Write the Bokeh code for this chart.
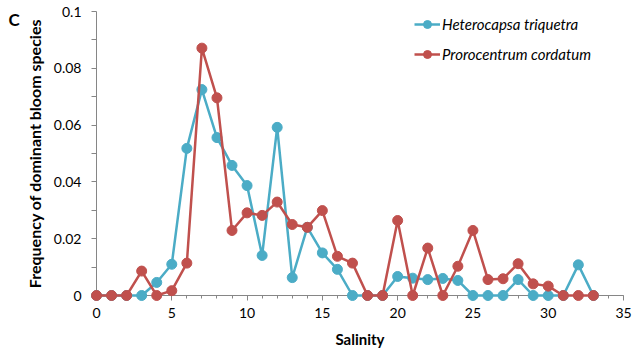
from bokeh.plotting import figure
from bokeh.models import FixedTicker, Label, Legend, LegendItem
from bokeh.embed import file_html
from bokeh.resources import INLINE

# Salinity classes and bloom frequencies for the two dominant species
salinity = list(range(0, 34))
heterocapsa = [0, 0, 0, 0, 0.0046, 0.011, 0.0518, 0.0725, 0.0556, 0.0458,
               0.0387, 0.0141, 0.0592, 0.0063, 0.024, 0.015, 0.0092, 0, 0, 0,
               0.0067, 0.0061, 0.0056, 0.006, 0.0053, 0, 0, 0, 0.0056, 0,
               0, 0, 0.0108, 0]
prorocentrum = [0, 0, 0, 0.0086, 0, 0.0017, 0.0114, 0.0871, 0.0696, 0.0229,
                0.0291, 0.0282, 0.0329, 0.025, 0.024, 0.0299, 0.0138, 0.0114, 0, 0,
                0.0264, 0, 0.0167, 0, 0.0103, 0.0229, 0.0056, 0.0059, 0.0112, 0.0041,
                0.0033, 0, 0, 0]

x_major = [0, 5, 10, 15, 20, 25, 30, 35]
x_minor = list(range(0, 36))
y_major = [0, 0.02, 0.04, 0.06, 0.08, 0.1]
y_minor = [0.01, 0.03, 0.05, 0.07, 0.09]
y_labels = ["0", "0.02", "0.04", "0.06", "0.08", "0.1"]

BLUE = "#4bacc6"
RED = "#c0504d"
AXIS = "#868686"
FONT = "Lato"

W, H = 633, 358
# plot area: x 0..35 spans pixels 96..623, y 0..0.1 spans pixels 295..11
PX_X = (623 - 96) / 35
PX_Y = (295 - 11) / 0.1
x_range = (-96 / PX_X, 35 + (W - 623) / PX_X)
y_range = (-(H - 295) / PX_Y, 0.1 + 11 / PX_Y)

# the frame fills the canvas; axes are pinned at the origin so that
# markers sitting on zero are drawn whole
p = figure(width=W, height=H, output_backend="svg", toolbar_location=None,
           x_range=x_range, y_range=y_range,
           min_border_left=0, min_border_right=0, min_border_top=0,
           min_border_bottom=0)
p.outline_line_color = None
p.grid.visible = False

p.xaxis.ticker = FixedTicker(ticks=x_major, minor_ticks=x_minor)
p.yaxis.ticker = FixedTicker(ticks=y_major, minor_ticks=y_minor)
p.yaxis.major_label_overrides = {str(v): t for v, t in zip(y_major, y_labels)}
p.xaxis.fixed_location = 0
p.yaxis.fixed_location = 0
p.xaxis.bounds = (0, 35)
p.yaxis.bounds = (0, 0.1)
for ax in (p.xaxis[0], p.yaxis[0]):
    ax.level = "underlay"
    ax.axis_line_color = AXIS
    ax.major_tick_line_color = AXIS
    ax.minor_tick_line_color = AXIS
    ax.major_tick_in = 0
    ax.minor_tick_in = 0
    ax.major_tick_out = 5
    ax.minor_tick_out = 5
    ax.major_label_text_font = FONT
    ax.major_label_text_font_size = "14px"
    ax.major_label_text_color = "#000000"
    ax.axis_label_text_font = FONT
    ax.axis_label_text_font_style = "bold"
    ax.axis_label_text_color = "#000000"
p.xaxis.axis_label_text_font_size = "15px"
p.yaxis.axis_label_text_font_size = "16px"
p.xaxis.minor_tick_out = 3
p.xaxis.major_label_standoff = 7
p.yaxis.major_label_standoff = 10
p.xaxis.axis_label = "Salinity"
p.yaxis.axis_label = "Frequency of dominant bloom species"
p.xaxis.axis_label_standoff = 9
p.yaxis.axis_label_standoff = 7

# series
l1 = p.line(salinity, heterocapsa, line_color=BLUE, line_width=2.5)
s1 = p.scatter(salinity, heterocapsa, size=10, fill_color=BLUE, line_color=BLUE)
l2 = p.line(salinity, prorocentrum, line_color=RED, line_width=2.5)
s2 = p.scatter(salinity, prorocentrum, size=10, fill_color=RED, line_color=RED)

legend = Legend(items=[LegendItem(label="Heterocapsa triquetra", renderers=[l1, s1]),
                       LegendItem(label="Prorocentrum cordatum", renderers=[l2, s2])],
                location=(414, H - 64), padding=0, margin=0, spacing=10,
                glyph_width=26, glyph_height=20, label_height=20, label_standoff=2,
                label_text_font=FONT, label_text_font_size="15px",
                label_text_font_style="italic", label_text_color="#000000",
                border_line_color=None, background_fill_alpha=0)
p.add_layout(legend, "center")

# panel letter
p.add_layout(Label(x=8, y=H - 8, x_units="screen", y_units="screen", text="C",
                   text_baseline="top",
                   text_font=FONT, text_font_size="17px", text_font_style="bold",
                   text_color="#000000"))

open("out.html", "w").write(file_html(p, INLINE))
